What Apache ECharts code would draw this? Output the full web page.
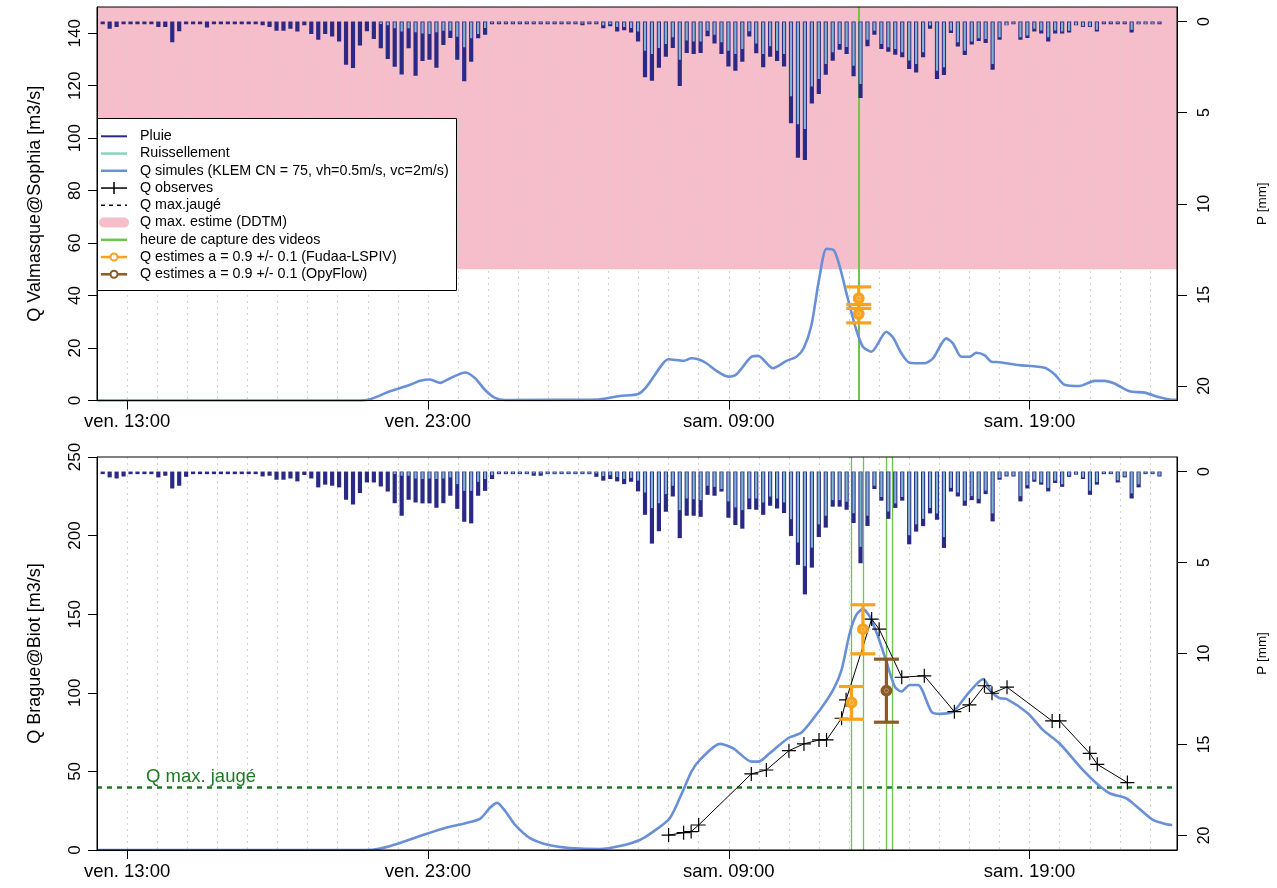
<!DOCTYPE html>
<html><head><meta charset="utf-8">
<style>html,body{margin:0;padding:0;background:#fff}#c{width:1277px;height:888px}</style>
<script src="https://cdn.jsdelivr.net/npm/echarts@6.0.0/dist/echarts.min.js"></script>
</head><body><div id="c"></div>
<script>
// ---------- data ----------
const xTickHours = [13, 23, 33, 43];
const xTickLabels = ['ven. 13:00', 'ven. 23:00', 'sam. 09:00', 'sam. 19:00'];
const qTopTicks = [0, 20, 40, 60, 80, 100, 120, 140];
const qBotTicks = [0, 50, 100, 150, 200, 250];
const pTicks = [0, 5, 10, 15, 20];

const rainStartHour = 12.19;
const rainStepHour = 0.2311;

const rainTop = [0.13,0.4,0.3,0.05,0.05,0.05,0.05,0.15,0.3,0.3,1.13,0.53,0.05,0.05,0.05,0.33,0.05,0.05,0.05,0.05,0.05,0.05,0.05,0.2,0.3,0.5,0.5,0.4,0.55,0.2,0.68,1.0,0.68,0.82,1.1,2.37,2.55,1.32,0.53,0.95,1.47,2.05,2.48,2.9,1.47,2.97,2.16,2.1,2.53,1.28,0.9,2.1,3.27,2.2,0.92,0.72,0.1,0.05,0.05,0.05,0.05,0.05,0.1,0.1,0.05,0.05,0.05,0.05,0.05,0.2,0.1,0.1,0.37,0.25,0.55,0.47,0.6,1.1,3.06,3.25,2.53,1.93,1.45,3.54,1.72,1.78,1.72,0.8,1.2,1.78,2.46,2.7,2.2,0.82,1.74,2.51,1.93,2.16,2.46,5.58,7.47,7.6,4.5,3.98,2.92,2.15,1.54,1.78,3.0,4.2,1.36,0.72,1.5,1.65,1.82,1.96,2.6,2.79,1.96,0.4,3.15,2.93,0.63,1.37,1.83,1.26,1.07,1.17,2.64,1.0,0.2,0.1,1.0,0.9,0.55,0.65,1.1,0.65,0.65,0.6,0.2,0.3,0.3,0.55,0.1,0.1,0.1,0.1,0.6,0.15,0.15,0.15,0.1];
const runoffTop = [0,0,0,0,0,0,0,0,0,0,0,0,0,0,0,0,0,0,0,0,0,0,0,0,0,0,0,0,0,0,0,0,0,0,0,0,0,0,0,0,0.13,0.2,0.37,0.55,0.37,0.59,0.65,0.68,0.59,0.5,0.5,0.83,1.41,0.92,0.68,0.35,0.05,0.02,0.02,0.02,0.02,0.02,0.02,0.02,0.02,0.02,0.02,0.02,0.02,0.1,0.05,0.05,0.2,0.15,0.3,0.3,0.35,0.55,1.6,1.78,1.45,1.23,0.86,2.1,1.04,1.1,1.1,0.5,0.73,1.14,1.6,1.78,1.5,0.53,1.2,1.78,1.36,1.6,1.78,4.1,5.63,5.9,3.56,3.15,2.33,1.68,1.23,1.4,2.42,3.43,1.0,0.5,1.23,1.41,1.5,1.69,2.14,2.33,1.69,0.22,2.7,2.51,0.49,1.14,1.6,1.1,0.92,0.95,2.33,0.86,0.2,0.1,0.86,0.77,0.4,0.49,0.86,0.49,0.55,0.5,0.18,0.25,0.25,0.45,0.08,0.08,0.08,0.08,0.45,0.12,0.12,0.12,0.08];

const rainBot = [0.1,0.32,0.38,0.27,0.05,0.05,0.05,0.05,0.32,0.23,0.93,0.78,0.29,0.05,0.05,0.14,0.14,0.05,0.05,0.05,0.14,0.05,0.05,0.27,0.23,0.45,0.45,0.38,0.54,0.19,0.38,0.87,0.72,0.78,0.87,1.55,1.81,1.18,0.6,0.6,0.82,1.1,1.74,2.43,1.55,1.7,1.75,1.75,1.99,1.74,1.33,2.05,2.76,2.85,1.33,1.06,0.41,0.05,0.05,0.05,0.05,0.1,0.23,0.23,0.05,0.05,0.05,0.05,0.05,0.14,0.14,0.29,0.5,0.41,0.54,0.69,0.56,1.09,2.38,3.96,3.28,2.21,1.37,3.66,2.43,2.43,2.49,1.28,1.33,1.1,2.54,2.94,3.14,2.07,2.1,2.38,1.88,2.03,2.28,3.54,5.13,6.75,5.28,3.6,3.08,1.93,1.93,2.1,2.83,5.04,2.99,0.96,1.6,2.6,2.0,1.6,4.0,3.3,3.0,2.3,2.65,4.2,1.1,1.37,1.88,1.57,1.75,1.24,2.74,0.45,0.27,0.27,1.64,0.93,0.56,0.72,1.09,0.63,0.84,0.29,0.17,0.41,1.28,0.72,0.1,0.1,0.6,0.32,1.48,0.87,0.1,0.1,0.27];
const runoffBot = [0,0,0,0,0,0,0,0,0,0,0,0,0,0,0,0,0,0,0,0,0,0,0,0,0,0,0,0,0,0,0,0,0,0,0,0,0,0,0,0,0,0,0.14,0.23,0.23,0.38,0.41,0.38,0.41,0.38,0.32,0.69,1.06,1.06,0.56,0.41,0.2,0.03,0.03,0.03,0.03,0.03,0.03,0.03,0.03,0.03,0.03,0.03,0.03,0.08,0.08,0.08,0.25,0.2,0.3,0.4,0.35,0.5,1.15,2.01,1.74,1.24,0.78,2.12,1.48,1.52,1.57,0.78,0.84,0.96,1.64,1.97,2.12,1.48,1.48,1.7,1.37,1.48,1.7,2.62,3.9,5.2,4.18,2.9,2.43,1.57,1.57,1.66,2.29,4.14,2.43,0.78,1.4,2.2,1.75,1.4,3.5,2.9,2.6,2.0,2.3,3.6,0.9,1.15,1.6,1.35,1.5,1.05,2.3,0.35,0.22,0.22,1.35,0.75,0.45,0.6,0.9,0.5,0.7,0.22,0.13,0.32,1.05,0.58,0.08,0.08,0.48,0.26,1.2,0.7,0.08,0.08,0.22];

const qSimTop = [[12.0,0],[20.75,0],[21.08,0.5],[21.74,3.5],[22.41,6],[22.74,7.5],[23.07,8],[23.41,6.7],[23.74,8.5],[24.24,10.7],[24.57,8.5],[24.9,4],[25.23,1],[25.56,0.2],[28.39,0.3],[28.72,0.45],[29.38,1.7],[29.99,2.5],[30.27,5.3],[30.77,13.5],[30.99,15.7],[31.49,15.1],[31.76,16.1],[31.98,15.7],[32.26,14.2],[32.59,11.3],[32.98,9.1],[33.26,10],[33.76,16.7],[33.98,17],[34.47,12.3],[34.92,15.1],[35.25,16.7],[35.49,19.9],[35.75,28.8],[36.0,46],[36.25,57.8],[36.5,57.2],[36.69,51],[36.97,38.3],[37.24,26.9],[37.46,20.5],[37.74,18.6],[38.24,26.2],[38.46,24],[38.74,18],[39.01,14.4],[39.51,14.2],[39.79,16.1],[40.23,23.7],[40.45,21.8],[40.73,16.7],[41.01,16.7],[41.23,18.2],[41.51,17.2],[41.73,14.8],[42.0,14.6],[42.67,13.5],[43.5,12.5],[43.83,10],[44.16,6],[44.66,5.5],[45.16,7.5],[45.49,7.5],[45.82,6.5],[46.32,3.5],[46.82,3],[47.32,1.2],[47.65,0.4],[47.89,0.3]];

const qSimBot = [[12.0,0],[20.91,0],[21.41,1],[22.08,4.5],[22.91,10],[23.57,14],[24.24,17],[24.74,20],[25.07,27],[25.3,30],[25.56,25],[25.9,16],[26.39,7.6],[27.06,3],[27.72,1.3],[28.72,0.6],[29.38,2.5],[30.04,6.4],[30.49,11.7],[31.04,20.2],[31.49,38.2],[31.76,49.9],[32.04,57.3],[32.71,67.5],[33.15,64.7],[33.76,56.2],[33.98,56.2],[34.36,61.5],[34.97,71.1],[35.42,74.7],[36.03,89.1],[36.47,101.8],[36.75,114.6],[37.02,137.9],[37.24,149.6],[37.46,153.2],[37.69,148.5],[37.96,135.8],[38.24,119.9],[38.52,103.9],[38.74,100.8],[39.01,105],[39.29,105],[39.74,88],[40.01,86.6],[40.46,88],[40.96,99.7],[41.46,108.8],[41.73,100.8],[42.0,96.6],[42.23,96.1],[42.94,87],[43.44,76.4],[43.99,67.9],[44.77,50.9],[45.22,42.5],[45.66,36.1],[46.21,32.9],[46.54,28],[47.1,19.1],[47.54,16.4],[47.74,15.9]];

const qObsBot = [[31.0,9.5],[31.5,11],[31.75,11.7],[32.0,15.9],[33.75,48.4],[34.25,50.9],[35.0,63.2],[35.5,67.5],[36.0,70],[36.25,70],[36.75,83.8],[36.9,95.5],[37.75,146.9],[38.0,140.5],[38.75,109.9],[39.5,110.8],[40.5,88],[41.0,92.3],[41.5,104.5],[41.75,99.7],[42.25,103.6],[43.75,82.1],[44.0,82.1],[45.0,61.5],[45.25,54.5],[46.25,42.9]];

const qMaxEstime = [50, 150];
const qMaxJauge = 40;
const qMaxJaugeLabel = 'Q max. jaugé';
const videoTop = [37.32];
const videoBot = [37.08, 37.46, 38.24, 38.44];
const lspivTop = [[37.32, 39, 35.1, 43.3], [37.32, 33, 29.6, 36.6]];
const lspivBot = [[37.08, 93.8, 83.2, 104], [37.46, 140.5, 124.8, 156]];
const opyBot = [[38.24, 101.4, 81.3, 121.4]];

// ---------- styles ----------
const FONT = '"Liberation Sans", Arial, Helvetica, sans-serif';
const NAVY = '#2a2a86';
const LIGHT = '#7fb3cf';
const RUNOFF = '#86d6c2';
const SIM = '#6990d6';
const PINK = '#f6bdca';
const GREEN = '#72c24e';
const DGREEN = '#1d7a24';
const ORANGE = '#f9a21c';
const BROWN = '#8c5a27';
const GRIDC = '#d2d2d2';

const rainDataTop = rainTop.map((p, i) => [rainStartHour + i * rainStepHour, p, runoffTop[i]]);
const rainDataBot = rainBot.map((p, i) => [rainStartHour + i * rainStepHour, p, runoffBot[i]]);

function rainRender(params, api) {
  const t = api.value(0), p = api.value(1), r = api.value(2);
  const b = api.coord([t, 0]);
  const pe = api.coord([t, p]);
  const re = api.coord([t, r]);
  const h = Math.max(pe[1] - b[1], 2.6);
  const ch = [{ type: 'rect', shape: { x: b[0] - 2.1, y: b[1], width: 4.2, height: h }, style: { fill: NAVY } }];
  if (r > 0.015) {
    ch.push({ type: 'rect', shape: { x: b[0] - 1.1, y: b[1] + 0.6, width: 2.2, height: Math.max(re[1] - b[1] - 0.6, 1.2) }, style: { fill: LIGHT } });
  }
  return { type: 'group', children: ch };
}

function pinkRender(params, api) {
  const cs = params.coordSys;
  const lo = api.coord([api.value(0), api.value(1)]);
  const hi = api.coord([api.value(0), api.value(2)]);
  const top = Math.max(hi[1], cs.y);
  return { type: 'rect', shape: { x: cs.x, y: top, width: cs.width, height: lo[1] - top }, style: { fill: PINK } };
}

function errRender(color) {
  return function (params, api) {
    const t = api.value(0);
    const c = api.coord([t, api.value(1)]);
    const lo = api.coord([t, api.value(2)]);
    const hi = api.coord([t, api.value(3)]);
    const cw = 12.5;
    const st = { stroke: color, lineWidth: 3.2 };
    return { type: 'group', children: [
      { type: 'line', shape: { x1: c[0], y1: lo[1], x2: c[0], y2: hi[1] }, style: st },
      { type: 'line', shape: { x1: c[0] - cw, y1: lo[1], x2: c[0] + cw, y2: lo[1] }, style: st },
      { type: 'line', shape: { x1: c[0] - cw, y1: hi[1], x2: c[0] + cw, y2: hi[1] }, style: st },
      { type: 'circle', shape: { cx: c[0], cy: c[1], r: 5.2 }, style: { fill: color, stroke: color, lineWidth: 1.5 } },
      { type: 'circle', shape: { cx: c[0], cy: c[1], r: 2 }, style: { fill: 'none', stroke: 'rgba(255,255,255,0.35)', lineWidth: 1 } }
    ] };
  };
}

function xAxis(gi) {
  return {
    type: 'value', gridIndex: gi, min: 12, max: 47.9, interval: 1, z: 10,
    axisLine: { show: true, onZero: false, lineStyle: { color: '#000', width: 1 } },
    axisTick: { show: true, customValues: xTickHours, length: 9, lineStyle: { color: '#000', width: 1 } },
    axisLabel: { customValues: xTickHours, formatter: v => xTickLabels[xTickHours.indexOf(Math.round(v))] || '', fontSize: 18.5, color: '#000', margin: 12, fontFamily: FONT },
    splitLine: { show: false }
  };
}
function xGridAxis(gi) {
  return {
    type: 'value', gridIndex: gi, min: 12, max: 47.9, interval: 1, position: 'bottom', z: 5,
    axisLine: { show: false }, axisTick: { show: false }, axisLabel: { show: false },
    splitLine: { show: true, showMinLine: false, showMaxLine: false, lineStyle: { color: GRIDC, type: [2, 4], width: 1 } }
  };
}
function yLeft(gi, max, ticks, name) {
  return {
    type: 'value', gridIndex: gi, position: 'left', min: 0, max: max, z: 10,
    axisLine: { show: true, onZero: false, lineStyle: { color: '#000' } },
    axisTick: { show: true, customValues: ticks, length: 9, lineStyle: { color: '#000' } },
    axisLabel: { customValues: ticks, rotate: 90, fontSize: 17, color: '#000', margin: 13, fontFamily: FONT },
    splitLine: { show: false },
    name: name, nameLocation: 'middle', nameRotate: 90, nameGap: 53,
    nameTextStyle: { fontSize: 18, color: '#000', fontFamily: FONT }
  };
}
function yRight(gi) {
  return {
    type: 'value', gridIndex: gi, position: 'right', inverse: true, min: -0.8, max: 20.8, z: 10,
    axisLine: { show: true, onZero: false, lineStyle: { color: '#000' } },
    axisTick: { show: true, customValues: pTicks, length: 10, lineStyle: { color: '#000' } },
    axisLabel: { customValues: pTicks, rotate: 90, fontSize: 16, color: '#000', margin: 20, fontFamily: FONT },
    splitLine: { show: false },
    name: 'P [mm]', nameLocation: 'middle', nameRotate: 90, nameGap: 78,
    nameTextStyle: { fontSize: 13.5, color: '#000', fontFamily: FONT }
  };
}

function vlines(xs, width) {
  return { silent: true, symbol: 'none', label: { show: false },
    lineStyle: { color: GREEN, width: width, type: 'solid' },
    data: xs.map(x => ({ xAxis: x })) };
}

// ---------- legend (graphic) ----------
const legendRows = [
  { label: 'Pluie', kind: 'line', color: NAVY, w: 2 },
  { label: 'Ruissellement', kind: 'line', color: RUNOFF, w: 2.5 },
  { label: 'Q simules (KLEM CN = 75, vh=0.5m/s, vc=2m/s)', kind: 'line', color: SIM, w: 2.5 },
  { label: 'Q observes', kind: 'plus' },
  { label: 'Q max.jaugé', kind: 'dash' },
  { label: 'Q max. estime (DDTM)', kind: 'band' },
  { label: 'heure de capture des videos', kind: 'line', color: GREEN, w: 2.5 },
  { label: 'Q estimes a = 0.9 +/- 0.1 (Fudaa-LSPIV)', kind: 'pt', color: ORANGE },
  { label: 'Q estimes a = 0.9 +/- 0.1 (OpyFlow)', kind: 'pt', color: BROWN }
];
const LG = { x: 97.5, y: 118.5, w: 359, h: 172, row0: 136.3, dy: 17.25, sx1: 101, sx2: 127, tx: 140 };
const legendEls = [{ type: 'rect', shape: { x: LG.x, y: LG.y, width: LG.w, height: LG.h }, style: { fill: '#fff', stroke: '#000', lineWidth: 1 }, z: 100 }];
legendRows.forEach((r, i) => {
  const y = LG.row0 + i * LG.dy;
  const ln = (color, w, dash) => ({ type: 'line', shape: { x1: LG.sx1, y1: y, x2: LG.sx2, y2: y }, style: { stroke: color, lineWidth: w, lineDash: dash || null }, z: 101 });
  if (r.kind === 'line') legendEls.push(ln(r.color, r.w));
  if (r.kind === 'plus') { legendEls.push(ln('#000', 1.5)); legendEls.push({ type: 'line', shape: { x1: 114, y1: y - 6, x2: 114, y2: y + 6 }, style: { stroke: '#000', lineWidth: 1.5 }, z: 101 }); }
  if (r.kind === 'dash') legendEls.push(ln('#000', 1.5, [4, 4]));
  if (r.kind === 'band') legendEls.push({ type: 'line', shape: { x1: LG.sx1 + 3, y1: y, x2: LG.sx2 - 3, y2: y }, style: { stroke: PINK, lineWidth: 10, lineCap: 'round' }, z: 101 });
  if (r.kind === 'pt') { legendEls.push(ln(r.color, 2.5)); legendEls.push({ type: 'circle', shape: { cx: 114, cy: y, r: 3.5 }, style: { fill: '#fff', stroke: r.color, lineWidth: 2 }, z: 102 }); }
  legendEls.push({ type: 'text', x: LG.tx, y: y, style: { text: r.label, fontSize: 14.3, fontFamily: FONT, fill: '#000', verticalAlign: 'middle', align: 'left' }, z: 101 });
});

// ---------- chart ----------
const chart = echarts.init(document.getElementById('c'), null, { renderer: 'canvas' });
chart.setOption({
  animation: false,
  backgroundColor: '#fff',
  grid: [
    { left: 97, top: 7, width: 1080, height: 393.5, show: true, borderColor: '#000', borderWidth: 1, backgroundColor: 'transparent', z: 10 },
    { left: 97, top: 457, width: 1080, height: 393, show: true, borderColor: '#000', borderWidth: 1, backgroundColor: 'transparent', z: 10 }
  ],
  xAxis: [xAxis(0), xAxis(1), xGridAxis(0), xGridAxis(1)],
  yAxis: [
    yLeft(0, 150, qTopTicks, 'Q Valmasque@Sophia [m3/s]'),
    yRight(0),
    yLeft(1, 250, qBotTicks, 'Q Brague@Biot [m3/s]'),
    yRight(1)
  ],
  graphic: { elements: legendEls },
  series: [
    { type: 'custom', name: 'Q max. estime (DDTM)', xAxisIndex: 0, yAxisIndex: 0, z: 0, silent: true, clip: true,
      renderItem: pinkRender, encode: { x: 0, y: [1, 2] }, data: [[30, qMaxEstime[0], qMaxEstime[1]]] },
    { type: 'custom', name: 'Pluie top', xAxisIndex: 0, yAxisIndex: 1, renderItem: rainRender, clip: true,
      encode: { x: 0, y: [1, 2] }, data: rainDataTop, z: 6 },
    { type: 'custom', name: 'Pluie bot', xAxisIndex: 1, yAxisIndex: 3, renderItem: rainRender, clip: true,
      encode: { x: 0, y: [1, 2] }, data: rainDataBot, z: 6 },
    { type: 'line', name: 'Q simules top', xAxisIndex: 0, yAxisIndex: 0, data: qSimTop, showSymbol: false, smooth: 0.25,
      lineStyle: { color: SIM, width: 2.6 }, z: 7, markLine: vlines(videoTop, 2) },
    { type: 'line', name: 'Q simules bot', xAxisIndex: 1, yAxisIndex: 2, data: qSimBot, showSymbol: false, smooth: 0.25,
      lineStyle: { color: SIM, width: 2.6 }, z: 7,
      markLine: { silent: true, symbol: 'none',
        data: [
          { yAxis: qMaxJauge, lineStyle: { color: DGREEN, width: 2.5, type: [5, 5] },
            label: { show: true, formatter: qMaxJaugeLabel, position: 'insideStartTop', color: DGREEN, fontSize: 18.5, fontFamily: FONT, padding: [0, 0, 0, 48], distance: 1 } },
          ...videoBot.map(x => ({ xAxis: x, lineStyle: { color: GREEN, width: 1.3, type: 'solid' }, label: { show: false } }))
        ] } },
    { type: 'line', name: 'Q observes', xAxisIndex: 1, yAxisIndex: 2, data: qObsBot,
      symbol: 'path://M-1,0L1,0M0,-1L0,1', symbolSize: 14,
      itemStyle: { color: 'none', borderColor: '#000', borderWidth: 1.2 },
      lineStyle: { color: '#000', width: 1 }, z: 8 },
    { type: 'custom', name: 'LSPIV top', xAxisIndex: 0, yAxisIndex: 0, renderItem: errRender(ORANGE), encode: { x: 0, y: [1, 2, 3] }, data: lspivTop, z: 9 },
    { type: 'custom', name: 'LSPIV bot', xAxisIndex: 1, yAxisIndex: 2, renderItem: errRender(ORANGE), encode: { x: 0, y: [1, 2, 3] }, data: lspivBot, z: 9 },
    { type: 'custom', name: 'OpyFlow bot', xAxisIndex: 1, yAxisIndex: 2, renderItem: errRender(BROWN), encode: { x: 0, y: [1, 2, 3] }, data: opyBot, z: 9 }
  ]
});
</script>
</body></html>
